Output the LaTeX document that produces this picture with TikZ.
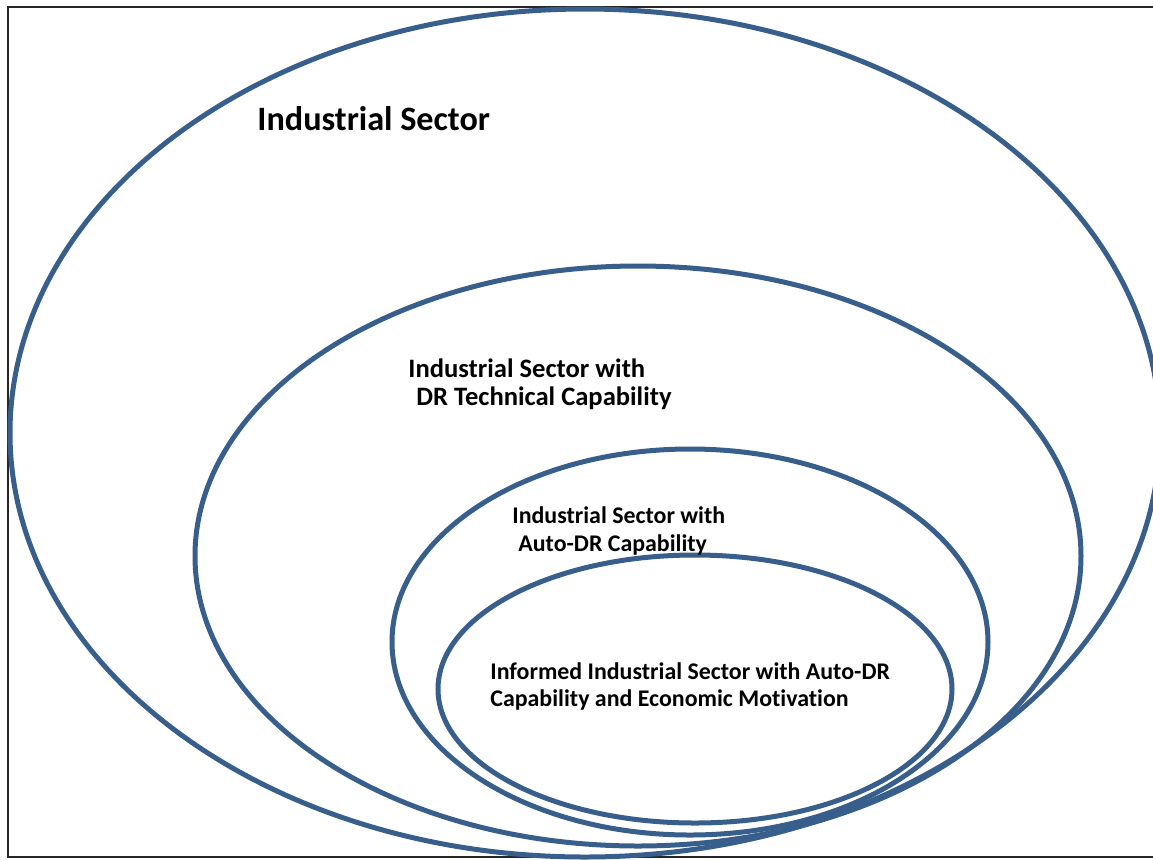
\documentclass[tikz,border=0pt]{standalone}
\usepackage{fontspec}
\setmainfont{Carlito}[Ligatures=NoCommon]
\begin{document}
\begin{tikzpicture}[x=0.5pt, y=-0.5pt, font=\bfseries]
		\tikzstyle{ring} = [draw={rgb,255:red,56;green,94;blue,140}, line width=2.5pt]
		\tikzstyle{lbl} = [anchor=base west, inner sep=0pt, align=left]
		\useasboundingbox (0,0) rectangle (1153,859);
		\clip (0,0) rectangle (1153,859);
		\fill[white] (0,0) rectangle (1153,859);
		\draw[line width=1pt, black!85] (8,7) rectangle (1170,857);
		\draw[ring] (585,433) ellipse [x radius=575, y radius=424];
		\draw[ring] (638,556) ellipse [x radius=443, y radius=290];
		\draw[ring] (690,642) ellipse [x radius=298, y radius=193];
		\draw[ring] (695,689) ellipse [x radius=257, y radius=134];
		% base of a two-line label is its second line
		\node[lbl, font=\fontsize{17.1}{20}\bfseries] (sector) at (257,130) {Industrial Sector};
		\node[lbl, font=\fontsize{13.3}{14}\bfseries] (technical) at (408,405) {Industrial Sector with\\\hspace{4pt}DR Technical Capability};
		\node[lbl, font=\fontsize{11.95}{14}\bfseries] (autodr) at (512,551) {Industrial Sector with\\\hspace{3pt}Auto-DR Capability};
		\node[lbl, font=\fontsize{11.95}{13.5}\bfseries] (informed) at (490,706) {Informed Industrial Sector with Auto-DR\\Capability and Economic Motivation};
	\end{tikzpicture}
\end{document}
